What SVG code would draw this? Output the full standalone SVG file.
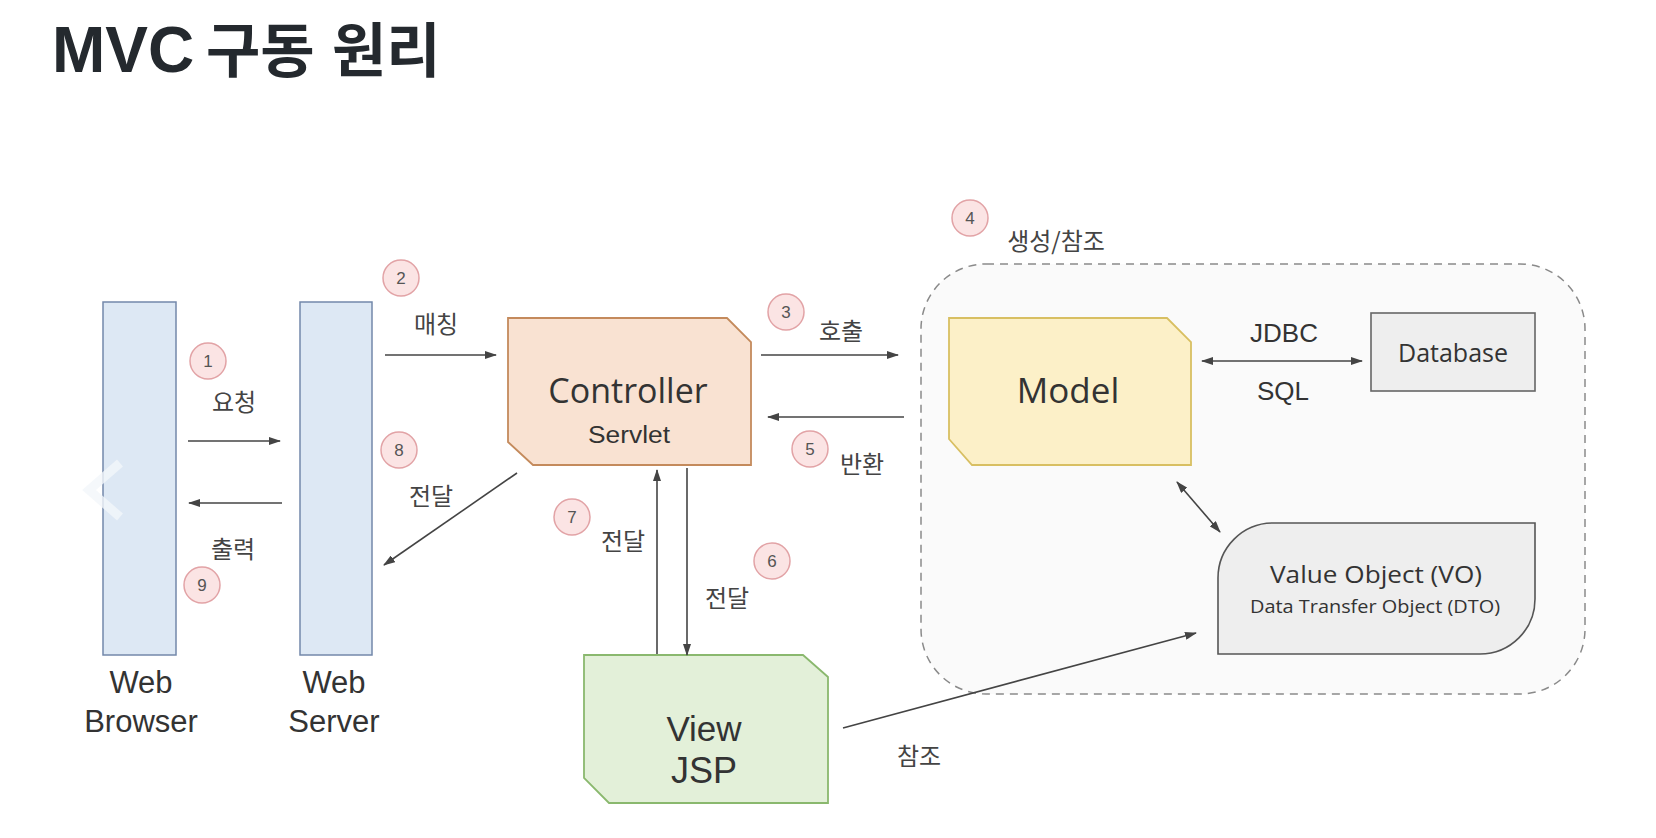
<svg xmlns="http://www.w3.org/2000/svg" width="1656" height="838" viewBox="0 0 1656 838">
<defs>
<marker id="ah" viewBox="0 0 12 8" refX="11" refY="4" markerWidth="12" markerHeight="8" markerUnits="userSpaceOnUse" orient="auto-start-reverse">
<path d="M0,0 L12,4 L0,8 z" fill="#444"/>
</marker>
<style>
.conn{stroke:#444;stroke-width:1.6;fill:none}
.lbl{font-family:"Noto Sans CJK KR","Noto Sans",sans-serif;font-size:24px;fill:#444;text-anchor:middle}
.num circle{fill:#fbe4e4;stroke:#e2a3a6;stroke-width:1.5}
.num text{font-family:"Liberation Sans",Arial,sans-serif;font-size:17px;fill:#555;text-anchor:middle}
.en{font-family:"Liberation Sans",Arial,sans-serif;fill:#333;text-anchor:middle}
.os{font-family:"Open Sans","Noto Sans",sans-serif;fill:#333;text-anchor:middle}
.tier{fill:#dde8f4;stroke:#7388aa;stroke-width:1.5}
</style>
</defs>
<rect width="1656" height="838" fill="#ffffff"/>

<text x="52" y="72" font-family="Liberation Sans,Arial,sans-serif" font-weight="bold" font-size="64" fill="#24292e">MVC<tspan x="206" font-family="Noto Sans CJK KR,sans-serif" font-size="59">구동</tspan><tspan x="332" font-family="Noto Sans CJK KR,sans-serif" font-size="59">원리</tspan></text>

<g id="model-area">
<rect x="921" y="264" width="664" height="430" rx="65" ry="65" fill="#fafafa" stroke="#8a8a8a" stroke-width="1.5" stroke-dasharray="8,6"/>
</g>

<g id="web-browser">
<rect class="tier" x="103" y="302" width="73" height="353"/>
<polyline points="120,463 89,490 120,517" fill="none" stroke="#f3f6fa" stroke-width="9" opacity="0.8"/>
<text class="en" x="141" y="693" font-size="31">Web</text>
<text class="en" x="141" y="732" font-size="31">Browser</text>
</g>

<g id="web-server">
<rect class="tier" x="300" y="302" width="72" height="353"/>
<text class="en" x="334" y="693" font-size="31">Web</text>
<text class="en" x="334" y="732" font-size="31">Server</text>
</g>

<g id="controller">
<path d="M508,318 H727 L751,342 V465 H533 L508,442 Z" fill="#f9e2d2" stroke="#c48a5c" stroke-width="1.8"/>
<text class="os" x="628" y="403" font-size="34">Controller</text>
<text class="en" x="629" y="443" font-size="23" textLength="82" lengthAdjust="spacingAndGlyphs">Servlet</text>
</g>

<g id="model">
<path d="M949,318 H1167 L1191,342 V465 H972 L949,439 Z" fill="#fcf0c8" stroke="#d8bf62" stroke-width="1.8"/>
<text class="os" x="1068" y="403" font-size="35">Model</text>
</g>

<g id="database">
<rect x="1371" y="313" width="164" height="78" fill="#eeeeee" stroke="#666" stroke-width="1.6"/>
<text class="os" x="1453" y="362" font-size="25">Database</text>
</g>

<g id="value-object">
<path d="M1218,654 V578 A55,55 0 0 1 1273,523 H1535 V599 A55,55 0 0 1 1480,654 Z" fill="#eeeeee" stroke="#555" stroke-width="1.6"/>
<text class="os" x="1376" y="583" font-size="24" textLength="212" lengthAdjust="spacingAndGlyphs">Value Object (VO)</text>
<text class="os" x="1375" y="613" font-size="19" textLength="250" lengthAdjust="spacingAndGlyphs">Data Transfer Object (DTO)</text>
</g>

<g id="view">
<path d="M584,655 H803 L828,677 V803 H609 L584,778 Z" fill="#e3f0d9" stroke="#8ab86e" stroke-width="1.8"/>
<text class="en" x="704" y="741" font-size="35">View</text>
<text class="en" x="704" y="783" font-size="36">JSP</text>
</g>

<g id="connectors">
<line class="conn" x1="188" y1="441" x2="280" y2="441" marker-end="url(#ah)"/>
<line class="conn" x1="282" y1="503" x2="189" y2="503" marker-end="url(#ah)"/>
<line class="conn" x1="385" y1="355" x2="496" y2="355" marker-end="url(#ah)"/>
<line class="conn" x1="517" y1="473" x2="384" y2="565" marker-end="url(#ah)"/>
<line class="conn" x1="761" y1="355" x2="898" y2="355" marker-end="url(#ah)"/>
<line class="conn" x1="904" y1="417" x2="768" y2="417" marker-end="url(#ah)"/>
<line class="conn" x1="657" y1="654" x2="657" y2="470" marker-end="url(#ah)"/>
<line class="conn" x1="687" y1="468" x2="687" y2="655" marker-end="url(#ah)"/>
<line class="conn" x1="1202" y1="361" x2="1362" y2="361" marker-start="url(#ah)" marker-end="url(#ah)"/>
<line class="conn" x1="1177" y1="482" x2="1220" y2="532" marker-start="url(#ah)" marker-end="url(#ah)"/>
<line class="conn" x1="843" y1="728" x2="1196" y2="633" marker-end="url(#ah)"/>
</g>

<g id="labels">
<text class="lbl" x="234" y="411">요청</text>
<text class="lbl" x="233" y="558">출력</text>
<text class="lbl" x="436" y="333">매칭</text>
<text class="lbl" x="431" y="505">전달</text>
<text class="lbl" x="841" y="340">호출</text>
<text class="lbl" x="862" y="473">반환</text>
<text class="lbl" x="1056" y="250">생성/참조</text>
<text class="lbl" x="623" y="550">전달</text>
<text class="lbl" x="727" y="607">전달</text>
<text class="en" x="1284" y="342" font-size="26" fill="#444">JDBC</text>
<text class="en" x="1283" y="400" font-size="26" fill="#444">SQL</text>
<text class="lbl" x="919" y="765">참조</text>
</g>

<g id="step-numbers">
<g class="num"><circle cx="208" cy="361" r="18"/><text x="208" y="367">1</text></g>
<g class="num"><circle cx="401" cy="278" r="18"/><text x="401" y="284">2</text></g>
<g class="num"><circle cx="786" cy="312" r="18"/><text x="786" y="318">3</text></g>
<g class="num"><circle cx="970" cy="218" r="18"/><text x="970" y="224">4</text></g>
<g class="num"><circle cx="810" cy="449" r="18"/><text x="810" y="455">5</text></g>
<g class="num"><circle cx="772" cy="561" r="18"/><text x="772" y="567">6</text></g>
<g class="num"><circle cx="572" cy="517" r="18"/><text x="572" y="523">7</text></g>
<g class="num"><circle cx="399" cy="450" r="18"/><text x="399" y="456">8</text></g>
<g class="num"><circle cx="202" cy="585" r="18"/><text x="202" y="591">9</text></g>
</g>
</svg>
